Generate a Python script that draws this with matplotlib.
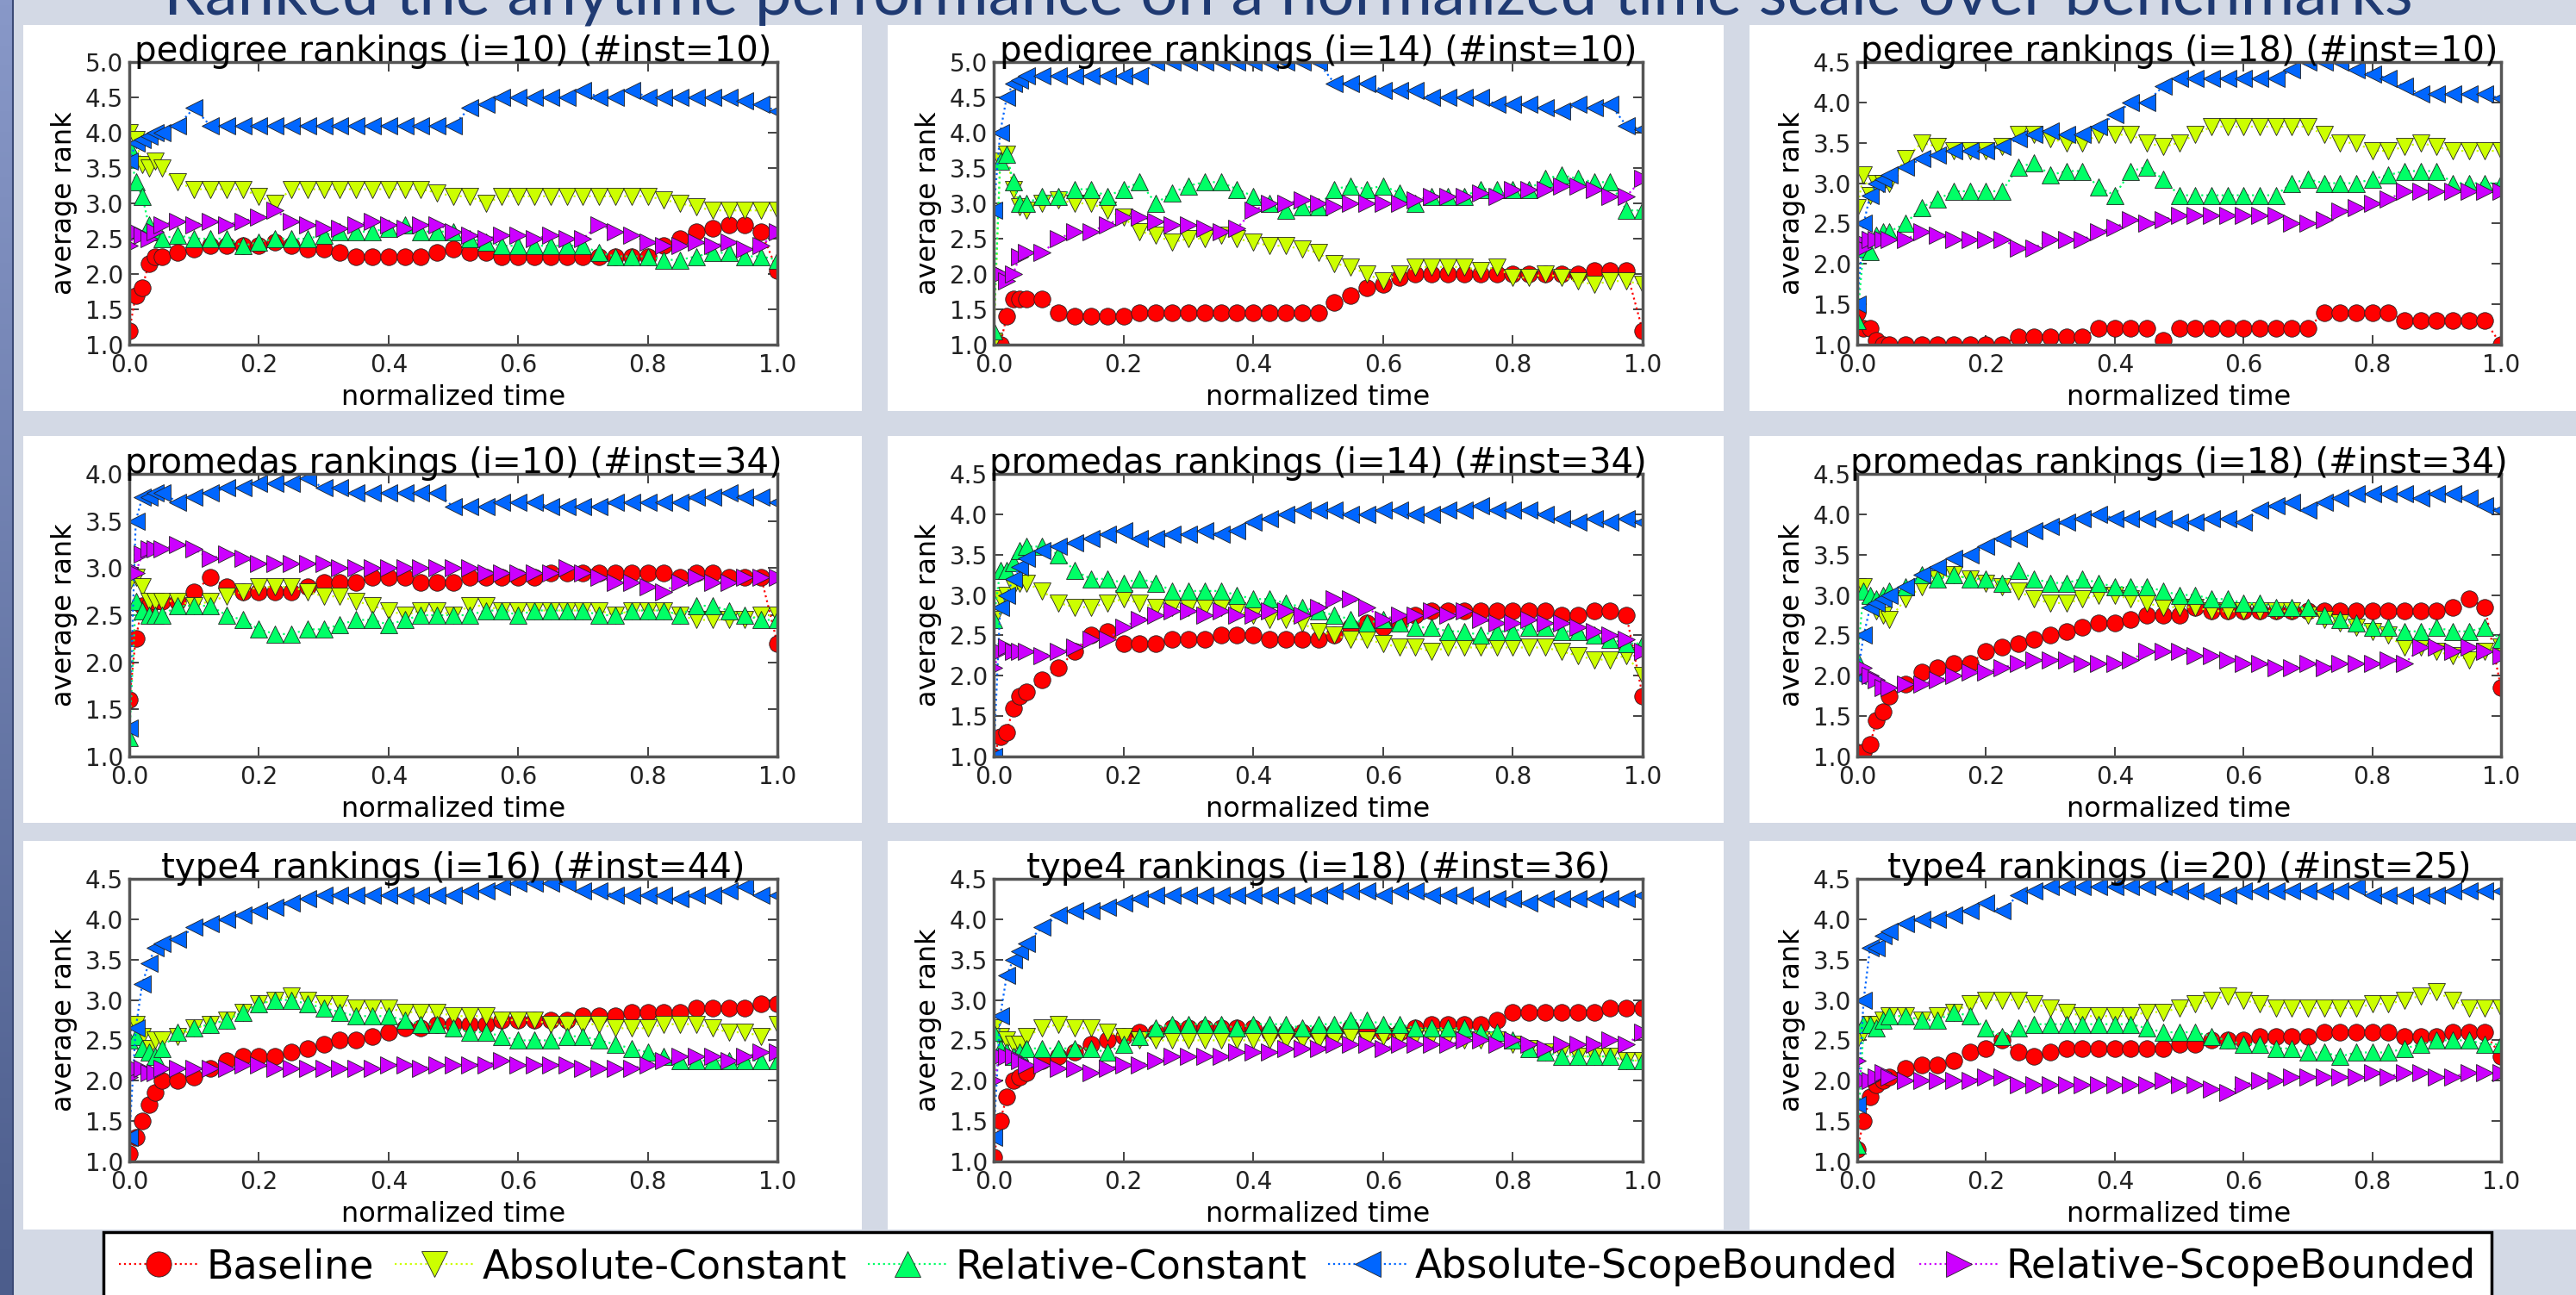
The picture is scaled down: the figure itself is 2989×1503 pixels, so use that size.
import numpy as np
import matplotlib
matplotlib.use("Agg")
import matplotlib.pyplot as plt
from matplotlib.patches import Rectangle
from matplotlib.lines import Line2D
from matplotlib.colors import LinearSegmentedColormap

plt.rcParams['font.family'] = ['DejaVu Sans']

W, H, DPI = 2989, 1503, 100

SLIDE_TITLE = "Ranked the anytime performance on a normalized time scale over benchmarks"
SERIES_NAMES = ["Baseline", "Absolute-Constant", "Relative-Constant",
                "Absolute-ScopeBounded", "Relative-ScopeBounded"]
MARKERS = ['o', 'v', '^', '<', '>']
COLORS = ['#ff0000', '#ccff00', '#00ff66', '#0066ff', '#cc00ff']

TIME = [0.0, 0.01, 0.02, 0.03, 0.04, 0.05,
        0.075, 0.1, 0.125, 0.15, 0.175, 0.2, 0.225, 0.25,
        0.275, 0.3, 0.325, 0.35, 0.375, 0.4, 0.425, 0.45,
        0.475, 0.5, 0.525, 0.55, 0.575, 0.6, 0.625, 0.65,
        0.675, 0.7, 0.725, 0.75, 0.775, 0.8, 0.825, 0.85,
        0.875, 0.9, 0.925, 0.95, 0.975, 1.0]
X_TICKS = [0.0, 0.2, 0.4, 0.6, 0.8, 1.0]

# ---------------- pedigree (i=10) ----------------
PED10_BASE = [1.2, 1.7, 1.8, 2.15, 2.25, 2.25,
              2.3, 2.35, 2.4, 2.4, 2.4, 2.4, 2.45, 2.4,
              2.35, 2.35, 2.3, 2.25, 2.25, 2.25, 2.25, 2.25,
              2.3, 2.35, 2.3, 2.3, 2.25, 2.25, 2.25, 2.25,
              2.25, 2.25, 2.25, 2.25, 2.25, 2.25, 2.4, 2.5,
              2.6, 2.65, 2.7, 2.7, 2.6, 2.05]
PED10_ACON = [4.0, 3.9, 3.55, 3.5, 3.6, 3.5,
              3.3, 3.2, 3.2, 3.2, 3.2, 3.1, 3.0, 3.2,
              3.2, 3.2, 3.2, 3.2, 3.2, 3.2, 3.2, 3.2,
              3.15, 3.1, 3.1, 3.0, 3.1, 3.1, 3.1, 3.1,
              3.1, 3.1, 3.1, 3.1, 3.1, 3.1, 3.05, 3.0,
              2.95, 2.9, 2.9, 2.9, 2.9, 2.9]
PED10_RCON = [3.8, 3.3, 3.1, 2.7, 2.6, 2.5,
              2.55, 2.5, 2.5, 2.5, 2.4, 2.45, 2.5, 2.5,
              2.5, 2.55, 2.6, 2.6, 2.6, 2.65, 2.7, 2.6,
              2.6, 2.6, 2.5, 2.45, 2.4, 2.4, 2.4, 2.4,
              2.4, 2.4, 2.3, 2.25, 2.25, 2.25, 2.2, 2.2,
              2.25, 2.3, 2.3, 2.25, 2.25, 2.2]
PED10_ASB = [3.6, 3.85, 3.9, 3.95, 4.0, 4.0,
             4.1, 4.35, 4.1, 4.1, 4.1, 4.1, 4.1, 4.1,
             4.1, 4.1, 4.1, 4.1, 4.1, 4.1, 4.1, 4.1,
             4.1, 4.1, 4.35, 4.4, 4.5, 4.5, 4.5, 4.5,
             4.5, 4.6, 4.5, 4.5, 4.6, 4.5, 4.5, 4.5,
             4.5, 4.5, 4.5, 4.45, 4.4, 4.3]
PED10_RSB = [2.4, 2.6, 2.55, 2.5, 2.6, 2.7,
             2.75, 2.7, 2.75, 2.7, 2.75, 2.8, 2.9, 2.75,
             2.7, 2.65, 2.65, 2.7, 2.75, 2.7, 2.65, 2.7,
             2.7, 2.6, 2.55, 2.5, 2.55, 2.55, 2.5, 2.55,
             2.5, 2.5, 2.7, 2.6, 2.55, 2.45, 2.4, 2.4,
             2.45, 2.4, 2.45, 2.35, 2.4, 2.6]

# ---------------- pedigree (i=14) ----------------
PED14_BASE = [1.0, 1.0, 1.4, 1.65, 1.65, 1.65,
              1.65, 1.45, 1.4, 1.4, 1.4, 1.4, 1.45, 1.45,
              1.45, 1.45, 1.45, 1.45, 1.45, 1.45, 1.45, 1.45,
              1.45, 1.45, 1.6, 1.7, 1.8, 1.85, 1.95, 2.0,
              2.0, 2.0, 2.0, 2.0, 2.0, 2.0, 2.0, 2.0,
              2.0, 2.0, 2.05, 2.05, 2.05, 1.2]
PED14_ACON = [1.05, 3.6, 3.7, 3.2, 2.95, 2.9,
              3.0, 3.05, 3.0, 3.0, 2.9, 2.8, 2.6, 2.55,
              2.45, 2.5, 2.5, 2.55, 2.5, 2.45, 2.4, 2.4,
              2.35, 2.3, 2.15, 2.1, 2.0, 1.9, 2.0, 2.1,
              2.1, 2.1, 2.1, 2.05, 2.1, 1.95, 1.95, 2.0,
              1.95, 1.9, 1.85, 1.9, 1.9, 1.85]
PED14_RCON = [1.2, 3.6, 3.7, 3.3, 3.0, 3.0,
              3.1, 3.1, 3.2, 3.2, 3.1, 3.2, 3.3, 3.0,
              3.15, 3.25, 3.3, 3.3, 3.2, 3.1, 3.0, 2.9,
              2.95, 2.95, 3.2, 3.25, 3.2, 3.25, 3.15, 3.0,
              3.1, 3.1, 3.1, 3.2, 3.2, 3.2, 3.2, 3.35,
              3.4, 3.35, 3.3, 3.3, 2.9, 2.9]
PED14_ASB = [2.9, 4.0, 4.5, 4.7, 4.75, 4.8,
             4.8, 4.8, 4.8, 4.8, 4.8, 4.8, 4.8, 5.0,
             5.0, 5.0, 5.0, 5.0, 5.0, 5.0, 5.0, 5.0,
             5.0, 5.0, 4.7, 4.7, 4.7, 4.6, 4.6, 4.6,
             4.5, 4.5, 4.5, 4.5, 4.4, 4.4, 4.4, 4.35,
             4.3, 4.4, 4.35, 4.4, 4.1, 4.05]
PED14_RSB = [2.05, 2.0, 1.9, 2.0, 2.25, 2.3,
             2.3, 2.5, 2.6, 2.6, 2.7, 2.8, 2.8, 2.75,
             2.7, 2.7, 2.65, 2.6, 2.65, 2.9, 3.0, 3.0,
             3.05, 3.0, 2.95, 3.0, 3.0, 3.0, 3.0, 3.05,
             3.1, 3.1, 3.1, 3.15, 3.1, 3.2, 3.2, 3.2,
             3.25, 3.25, 3.2, 3.1, 3.1, 3.35]

# ---------------- pedigree (i=18) ----------------
PED18_BASE = [1.4, 1.2, 1.2, 1.05, 1.0, 1.0,
              1.0, 1.0, 1.0, 1.0, 1.0, 1.0, 1.0, 1.1,
              1.1, 1.1, 1.1, 1.1, 1.2, 1.2, 1.2, 1.2,
              1.05, 1.2, 1.2, 1.2, 1.2, 1.2, 1.2, 1.2,
              1.2, 1.2, 1.4, 1.4, 1.4, 1.4, 1.4, 1.3,
              1.3, 1.3, 1.3, 1.3, 1.3, 1.0]
PED18_ACON = [2.7, 3.1, 2.85, 3.0, 3.0, 3.0,
              3.3, 3.5, 3.45, 3.4, 3.4, 3.4, 3.45, 3.6,
              3.6, 3.55, 3.5, 3.5, 3.6, 3.6, 3.6, 3.5,
              3.45, 3.5, 3.6, 3.7, 3.7, 3.7, 3.7, 3.7,
              3.7, 3.7, 3.6, 3.5, 3.5, 3.4, 3.4, 3.45,
              3.5, 3.45, 3.4, 3.4, 3.4, 3.4]
PED18_RCON = [1.3, 2.2, 2.15, 2.35, 2.4, 2.4,
              2.5, 2.7, 2.8, 2.9, 2.9, 2.9, 2.9, 3.2,
              3.25, 3.1, 3.15, 3.15, 2.95, 2.85, 3.15, 3.2,
              3.05, 2.85, 2.85, 2.85, 2.85, 2.85, 2.85, 2.85,
              3.0, 3.05, 3.0, 3.0, 3.0, 3.05, 3.1, 3.15,
              3.15, 3.15, 3.0, 3.0, 3.0, 3.0]
PED18_ASB = [1.5, 2.5, 2.85, 3.0, 3.05, 3.1,
             3.2, 3.3, 3.35, 3.4, 3.4, 3.4, 3.45, 3.55,
             3.6, 3.65, 3.6, 3.6, 3.7, 3.85, 4.0, 4.0,
             4.2, 4.3, 4.3, 4.3, 4.3, 4.3, 4.3, 4.3,
             4.4, 4.5, 4.5, 4.5, 4.4, 4.35, 4.3, 4.2,
             4.1, 4.1, 4.1, 4.1, 4.1, 4.05]
PED18_RSB = [2.3, 2.2, 2.3, 2.3, 2.3, 2.3,
             2.3, 2.4, 2.35, 2.3, 2.3, 2.3, 2.3, 2.2,
             2.2, 2.3, 2.3, 2.3, 2.4, 2.45, 2.55, 2.5,
             2.55, 2.6, 2.6, 2.6, 2.6, 2.6, 2.6, 2.6,
             2.5, 2.5, 2.55, 2.65, 2.7, 2.75, 2.8, 2.9,
             2.9, 2.9, 2.9, 2.9, 2.9, 2.9]

# ---------------- promedas (i=10) ----------------
PRO10_BASE = [1.6, 2.25, 2.6, 2.6, 2.65, 2.65,
              2.65, 2.75, 2.9, 2.8, 2.75, 2.75, 2.75, 2.75,
              2.8, 2.85, 2.85, 2.85, 2.9, 2.9, 2.9, 2.85,
              2.85, 2.85, 2.9, 2.9, 2.9, 2.9, 2.9, 2.95,
              2.95, 2.95, 2.95, 2.95, 2.95, 2.95, 2.95, 2.9,
              2.95, 2.95, 2.9, 2.9, 2.9, 2.2]
PRO10_ACON = [2.85, 2.9, 2.8, 2.65, 2.65, 2.65,
              2.65, 2.6, 2.65, 2.7, 2.75, 2.8, 2.8, 2.8,
              2.75, 2.7, 2.7, 2.65, 2.6, 2.55, 2.5, 2.55,
              2.55, 2.5, 2.6, 2.6, 2.55, 2.55, 2.55, 2.55,
              2.55, 2.55, 2.55, 2.5, 2.55, 2.55, 2.55, 2.5,
              2.45, 2.45, 2.45, 2.45, 2.5, 2.5]
PRO10_RCON = [1.2, 2.65, 2.55, 2.5, 2.5, 2.5,
              2.6, 2.6, 2.6, 2.5, 2.45, 2.35, 2.3, 2.3,
              2.35, 2.35, 2.4, 2.45, 2.45, 2.4, 2.45, 2.5,
              2.5, 2.5, 2.5, 2.55, 2.55, 2.5, 2.55, 2.55,
              2.55, 2.55, 2.5, 2.5, 2.55, 2.55, 2.55, 2.5,
              2.6, 2.6, 2.55, 2.5, 2.45, 2.45]
PRO10_ASB = [1.3, 3.5, 3.75, 3.75, 3.8, 3.8,
             3.7, 3.75, 3.8, 3.85, 3.85, 3.9, 3.9, 3.9,
             3.95, 3.85, 3.85, 3.8, 3.8, 3.8, 3.8, 3.8,
             3.8, 3.65, 3.65, 3.65, 3.7, 3.7, 3.7, 3.65,
             3.65, 3.65, 3.65, 3.7, 3.7, 3.7, 3.7, 3.7,
             3.75, 3.75, 3.8, 3.75, 3.75, 3.7]
PRO10_RSB = [3.0, 2.95, 3.15, 3.2, 3.2, 3.2,
             3.25, 3.2, 3.1, 3.15, 3.1, 3.05, 3.05, 3.05,
             3.05, 3.05, 3.0, 3.0, 3.0, 3.0, 3.0, 3.0,
             3.0, 3.0, 3.0, 2.95, 2.95, 2.95, 2.95, 2.95,
             3.0, 2.95, 2.9, 2.85, 2.85, 2.8, 2.75, 2.85,
             2.9, 2.85, 2.85, 2.9, 2.9, 2.9]

# ---------------- promedas (i=14) ----------------
PRO14_BASE = [1.0, 1.25, 1.3, 1.6, 1.75, 1.8,
              1.95, 2.1, 2.3, 2.5, 2.55, 2.4, 2.4, 2.4,
              2.45, 2.45, 2.45, 2.5, 2.5, 2.5, 2.45, 2.45,
              2.45, 2.45, 2.5, 2.6, 2.65, 2.6, 2.65, 2.75,
              2.8, 2.8, 2.8, 2.8, 2.8, 2.8, 2.8, 2.8,
              2.75, 2.75, 2.8, 2.8, 2.75, 1.75]
PRO14_ACON = [2.7, 2.95, 3.0, 3.1, 3.15, 3.15,
              3.05, 2.9, 2.85, 2.85, 2.9, 2.95, 2.9, 2.85,
              2.85, 2.85, 2.85, 2.85, 2.8, 2.75, 2.7, 2.7,
              2.65, 2.55, 2.5, 2.45, 2.45, 2.4, 2.35, 2.35,
              2.3, 2.35, 2.35, 2.35, 2.35, 2.35, 2.35, 2.35,
              2.3, 2.25, 2.2, 2.2, 2.25, 2.0]
PRO14_RCON = [2.7, 3.3, 3.3, 3.4, 3.55, 3.6,
              3.6, 3.5, 3.3, 3.2, 3.2, 3.15, 3.2, 3.15,
              3.05, 3.05, 3.05, 3.05, 3.0, 2.95, 2.95, 2.9,
              2.85, 2.8, 2.75, 2.7, 2.65, 2.7, 2.65, 2.6,
              2.6, 2.55, 2.55, 2.5, 2.55, 2.55, 2.6, 2.6,
              2.55, 2.55, 2.5, 2.45, 2.4, 2.4]
PRO14_ASB = [1.0, 2.85, 3.0, 3.2, 3.35, 3.45,
             3.55, 3.6, 3.65, 3.7, 3.75, 3.8, 3.7, 3.7,
             3.75, 3.75, 3.8, 3.75, 3.8, 3.9, 3.95, 4.0,
             4.05, 4.05, 4.05, 4.0, 4.0, 4.05, 4.05, 4.0,
             4.0, 4.05, 4.05, 4.1, 4.05, 4.05, 4.05, 4.0,
             3.95, 3.9, 3.95, 3.9, 3.95, 3.9]
PRO14_RSB = [2.1, 2.3, 2.35, 2.3, 2.3, 2.3,
             2.25, 2.3, 2.35, 2.45, 2.45, 2.6, 2.7, 2.75,
             2.8, 2.8, 2.75, 2.8, 2.75, 2.75, 2.8, 2.8,
             2.75, 2.85, 2.95, 2.95, 2.85, 2.7, 2.75, 2.75,
             2.8, 2.75, 2.8, 2.7, 2.65, 2.65, 2.7, 2.65,
             2.65, 2.6, 2.55, 2.5, 2.45, 2.3]

# ---------------- promedas (i=18) ----------------
PRO18_BASE = [1.05, 1.05, 1.15, 1.45, 1.55, 1.75,
              1.9, 2.05, 2.1, 2.15, 2.15, 2.3, 2.35, 2.4,
              2.45, 2.5, 2.55, 2.6, 2.65, 2.65, 2.7, 2.75,
              2.75, 2.75, 2.85, 2.8, 2.8, 2.8, 2.8, 2.8,
              2.8, 2.8, 2.8, 2.8, 2.8, 2.8, 2.8, 2.8,
              2.8, 2.8, 2.85, 2.95, 2.85, 1.85]
PRO18_ACON = [3.1, 3.1, 2.9, 2.8, 2.75, 2.7,
              2.95, 3.1, 3.2, 3.25, 3.2, 3.15, 3.1, 3.05,
              2.95, 2.9, 2.9, 2.95, 3.0, 3.0, 2.95, 2.9,
              2.85, 2.85, 2.85, 2.8, 2.8, 2.8, 2.8, 2.8,
              2.8, 2.75, 2.7, 2.65, 2.6, 2.55, 2.5, 2.35,
              2.35, 2.3, 2.25, 2.2, 2.3, 2.35]
PRO18_RCON = [2.2, 3.05, 3.0, 2.95, 3.0, 3.05,
              3.1, 3.25, 3.2, 3.25, 3.2, 3.2, 3.15, 3.3,
              3.2, 3.15, 3.15, 3.2, 3.15, 3.1, 3.1, 3.1,
              3.05, 3.0, 3.0, 2.95, 2.95, 2.9, 2.9, 2.85,
              2.85, 2.85, 2.75, 2.7, 2.65, 2.6, 2.6, 2.55,
              2.55, 2.6, 2.55, 2.55, 2.6, 2.45]
PRO18_ASB = [2.0, 2.5, 2.85, 2.9, 2.95, 3.0,
             3.1, 3.25, 3.35, 3.45, 3.5, 3.6, 3.7, 3.7,
             3.8, 3.85, 3.9, 3.95, 4.0, 3.95, 3.95, 3.95,
             3.95, 3.9, 3.9, 3.95, 3.95, 3.9, 4.05, 4.1,
             4.15, 4.05, 4.15, 4.2, 4.25, 4.25, 4.25, 4.25,
             4.2, 4.25, 4.25, 4.2, 4.1, 4.05]
PRO18_RSB = [2.05, 2.1, 2.0, 1.95, 1.85, 1.85,
             1.9, 1.9, 1.95, 2.0, 2.05, 2.05, 2.1, 2.15,
             2.2, 2.2, 2.2, 2.15, 2.15, 2.15, 2.2, 2.3,
             2.3, 2.3, 2.25, 2.25, 2.2, 2.15, 2.15, 2.1,
             2.1, 2.15, 2.1, 2.15, 2.15, 2.15, 2.2, 2.15,
             2.35, 2.35, 2.3, 2.35, 2.3, 2.25]

# ---------------- type4 (i=16) ----------------
T16_BASE = [1.1, 1.3, 1.5, 1.7, 1.85, 2.0,
            2.0, 2.05, 2.15, 2.25, 2.3, 2.3, 2.3, 2.35,
            2.4, 2.45, 2.5, 2.5, 2.55, 2.6, 2.65, 2.65,
            2.7, 2.7, 2.7, 2.7, 2.75, 2.75, 2.75, 2.75,
            2.75, 2.8, 2.8, 2.8, 2.85, 2.85, 2.85, 2.85,
            2.9, 2.9, 2.9, 2.9, 2.95, 2.95]
T16_ACON = [2.7, 2.7, 2.55, 2.4, 2.5, 2.5,
            2.55, 2.65, 2.7, 2.75, 2.85, 2.95, 3.0, 3.05,
            3.0, 2.95, 2.95, 2.9, 2.9, 2.9, 2.85, 2.85,
            2.85, 2.8, 2.8, 2.8, 2.75, 2.75, 2.75, 2.7,
            2.7, 2.7, 2.7, 2.65, 2.65, 2.65, 2.7, 2.7,
            2.7, 2.65, 2.6, 2.6, 2.55, 2.7]
T16_RCON = [2.5, 2.55, 2.4, 2.35, 2.3, 2.4,
            2.6, 2.65, 2.7, 2.75, 2.85, 2.95, 3.0, 3.0,
            2.95, 2.9, 2.85, 2.8, 2.8, 2.8, 2.75, 2.7,
            2.7, 2.65, 2.6, 2.6, 2.55, 2.5, 2.5, 2.5,
            2.55, 2.55, 2.5, 2.45, 2.4, 2.35, 2.3, 2.25,
            2.25, 2.25, 2.25, 2.25, 2.25, 2.25]
T16_ASB = [1.3, 2.65, 3.2, 3.45, 3.65, 3.7,
           3.75, 3.9, 3.95, 4.0, 4.05, 4.1, 4.15, 4.2,
           4.25, 4.3, 4.3, 4.3, 4.3, 4.3, 4.3, 4.3,
           4.3, 4.3, 4.35, 4.35, 4.4, 4.45, 4.45, 4.45,
           4.45, 4.35, 4.35, 4.3, 4.3, 4.3, 4.3, 4.25,
           4.3, 4.3, 4.35, 4.4, 4.3, 4.3]
T16_RSB = [2.05, 2.15, 2.15, 2.1, 2.1, 2.15,
           2.15, 2.15, 2.15, 2.15, 2.2, 2.2, 2.15, 2.15,
           2.15, 2.15, 2.15, 2.15, 2.15, 2.2, 2.2, 2.15,
           2.2, 2.2, 2.2, 2.2, 2.25, 2.2, 2.2, 2.2,
           2.2, 2.15, 2.15, 2.15, 2.15, 2.2, 2.25, 2.3,
           2.3, 2.3, 2.25, 2.3, 2.35, 2.35]

# ---------------- type4 (i=18) ----------------
T18_BASE = [1.05, 1.5, 1.8, 2.0, 2.05, 2.1,
            2.25, 2.3, 2.35, 2.45, 2.5, 2.55, 2.6, 2.6,
            2.65, 2.65, 2.65, 2.65, 2.65, 2.65, 2.6, 2.6,
            2.6, 2.6, 2.6, 2.65, 2.6, 2.6, 2.6, 2.65,
            2.7, 2.7, 2.7, 2.7, 2.75, 2.85, 2.85, 2.85,
            2.85, 2.85, 2.85, 2.9, 2.9, 2.9]
T18_ACON = [2.65, 2.55, 2.5, 2.45, 2.45, 2.55,
            2.65, 2.7, 2.65, 2.65, 2.6, 2.55, 2.5, 2.5,
            2.5, 2.5, 2.5, 2.5, 2.5, 2.5, 2.5, 2.5,
            2.5, 2.5, 2.5, 2.55, 2.5, 2.55, 2.55, 2.55,
            2.55, 2.55, 2.5, 2.5, 2.5, 2.45, 2.4, 2.35,
            2.35, 2.3, 2.3, 2.3, 2.25, 2.25]
T18_RCON = [2.6, 2.4, 2.35, 2.3, 2.35, 2.4,
            2.4, 2.4, 2.4, 2.4, 2.35, 2.45, 2.55, 2.65,
            2.7, 2.7, 2.7, 2.7, 2.65, 2.7, 2.7, 2.7,
            2.65, 2.7, 2.7, 2.75, 2.75, 2.7, 2.7, 2.65,
            2.65, 2.65, 2.65, 2.6, 2.6, 2.5, 2.4, 2.35,
            2.3, 2.3, 2.3, 2.3, 2.25, 2.25]
T18_ASB = [1.3, 2.8, 3.3, 3.5, 3.6, 3.7,
           3.9, 4.05, 4.1, 4.1, 4.15, 4.2, 4.25, 4.3,
           4.3, 4.3, 4.3, 4.3, 4.3, 4.3, 4.3, 4.3,
           4.3, 4.3, 4.35, 4.35, 4.35, 4.3, 4.35, 4.35,
           4.3, 4.3, 4.3, 4.25, 4.25, 4.25, 4.2, 4.25,
           4.25, 4.25, 4.25, 4.25, 4.25, 4.3]
T18_RSB = [2.0, 2.3, 2.3, 2.3, 2.25, 2.2,
           2.2, 2.15, 2.15, 2.1, 2.15, 2.2, 2.2, 2.25,
           2.3, 2.3, 2.3, 2.3, 2.35, 2.35, 2.35, 2.4,
           2.4, 2.4, 2.45, 2.45, 2.45, 2.4, 2.45, 2.45,
           2.45, 2.45, 2.5, 2.5, 2.45, 2.5, 2.45, 2.4,
           2.45, 2.45, 2.45, 2.5, 2.45, 2.6]

# ---------------- type4 (i=20) ----------------
T20_BASE = [1.15, 1.5, 1.8, 1.95, 2.0, 2.05,
            2.15, 2.2, 2.2, 2.25, 2.35, 2.4, 2.5, 2.35,
            2.3, 2.35, 2.4, 2.4, 2.4, 2.4, 2.4, 2.4,
            2.4, 2.45, 2.45, 2.5, 2.5, 2.5, 2.55, 2.55,
            2.55, 2.55, 2.6, 2.6, 2.6, 2.6, 2.6, 2.55,
            2.55, 2.55, 2.6, 2.6, 2.6, 2.3]
T20_ACON = [2.5, 2.6, 2.7, 2.7, 2.75, 2.8,
            2.8, 2.75, 2.8, 2.85, 2.95, 3.0, 3.0, 3.0,
            2.95, 2.9, 2.85, 2.8, 2.8, 2.8, 2.8, 2.85,
            2.85, 2.9, 2.95, 3.0, 3.05, 3.0, 2.95, 2.9,
            2.9, 2.9, 2.9, 2.9, 2.9, 2.95, 2.95, 3.0,
            3.05, 3.1, 3.0, 2.9, 2.9, 2.9]
T20_RCON = [1.2, 2.7, 2.7, 2.65, 2.75, 2.8,
            2.8, 2.75, 2.75, 2.85, 2.8, 2.65, 2.55, 2.65,
            2.7, 2.7, 2.7, 2.7, 2.7, 2.7, 2.7, 2.65,
            2.6, 2.6, 2.6, 2.55, 2.5, 2.45, 2.45, 2.4,
            2.4, 2.35, 2.35, 2.3, 2.35, 2.35, 2.35, 2.4,
            2.45, 2.5, 2.5, 2.5, 2.45, 2.45]
T20_ASB = [1.7, 3.0, 3.65, 3.65, 3.8, 3.85,
           3.95, 4.0, 4.0, 4.05, 4.1, 4.2, 4.1, 4.3,
           4.35, 4.4, 4.4, 4.4, 4.4, 4.4, 4.4, 4.4,
           4.4, 4.35, 4.35, 4.3, 4.3, 4.35, 4.35, 4.35,
           4.35, 4.35, 4.35, 4.35, 4.4, 4.3, 4.3, 4.3,
           4.3, 4.3, 4.35, 4.35, 4.35, 4.35]
T20_RSB = [2.25, 2.0, 2.0, 2.05, 2.1, 2.05,
           2.0, 2.0, 2.0, 2.0, 2.0, 2.05, 2.05, 1.95,
           1.95, 1.95, 1.95, 1.95, 1.95, 1.95, 1.95, 1.95,
           2.0, 1.95, 1.95, 1.9, 1.85, 1.95, 2.0, 2.0,
           2.05, 2.05, 2.05, 2.05, 2.05, 2.1, 2.05, 2.1,
           2.1, 2.05, 2.05, 2.1, 2.1, 2.1]

PANEL_TITLES = ["pedigree rankings (i=10) (#inst=10)",
                "pedigree rankings (i=14) (#inst=10)",
                "pedigree rankings (i=18) (#inst=10)",
                "promedas rankings (i=10) (#inst=34)",
                "promedas rankings (i=14) (#inst=34)",
                "promedas rankings (i=18) (#inst=34)",
                "type4 rankings (i=16) (#inst=44)",
                "type4 rankings (i=18) (#inst=36)",
                "type4 rankings (i=20) (#inst=25)"]
PANEL_YMAX = [5.0, 5.0, 4.5, 4.0, 4.5, 4.5, 4.5, 4.5, 4.5]
PANEL_SERIES = [
    [PED10_BASE, PED10_ACON, PED10_RCON, PED10_ASB, PED10_RSB],
    [PED14_BASE, PED14_ACON, PED14_RCON, PED14_ASB, PED14_RSB],
    [PED18_BASE, PED18_ACON, PED18_RCON, PED18_ASB, PED18_RSB],
    [PRO10_BASE, PRO10_ACON, PRO10_RCON, PRO10_ASB, PRO10_RSB],
    [PRO14_BASE, PRO14_ACON, PRO14_RCON, PRO14_ASB, PRO14_RSB],
    [PRO18_BASE, PRO18_ACON, PRO18_RCON, PRO18_ASB, PRO18_RSB],
    [T16_BASE, T16_ACON, T16_RCON, T16_ASB, T16_RSB],
    [T18_BASE, T18_ACON, T18_RCON, T18_ASB, T18_RSB],
    [T20_BASE, T20_ACON, T20_RCON, T20_ASB, T20_RSB],
]

for p, group in enumerate(PANEL_SERIES):
    for s, vals in enumerate(group):
        if len(vals) != len(TIME):
            raise ValueError(f"panel {p} series {s}: {len(vals)} values")

# ---------------- layout (pixels) ----------------
BG = '#d3d9e5'
COL_AX = [(150, 902), (1153, 1906), (2155, 2902)]
ROW_AX = [(72, 400), (550, 878), (1020, 1348)]
COL_BOX = [(27, 1000), (1030, 2000), (2030, 2989)]
ROW_BOX = [(29, 477), (506, 955), (976, 1427)]

fig = plt.figure(figsize=(W / DPI, H / DPI), dpi=DPI, facecolor=BG)

# left decorative strip
sax = fig.add_axes([0, 0, 15 / W, 1])
grad = np.linspace(0, 1, 256).reshape(-1, 1)
cmap = LinearSegmentedColormap.from_list('strip', ['#8898c8', '#4c5d8c'])
sax.imshow(grad, aspect='auto', cmap=cmap, extent=[0, 1, 0, 1], origin='upper')
sax.set_axis_off()
fig.add_artist(Line2D([15 / W, 15 / W], [0, 1], transform=fig.transFigure,
                      color='#3b4a76', lw=1.5, zorder=3))

# white picture boxes
for (y0, y1) in ROW_BOX:
    for (x0, x1) in COL_BOX:
        fig.add_artist(Rectangle((x0 / W, 1 - y1 / H), (x1 - x0) / W, (y1 - y0) / H,
                                 transform=fig.transFigure, facecolor='white',
                                 edgecolor='none', zorder=-5))

handles = []
for idx in range(9):
    r, c = divmod(idx, 3)
    (xl, xr), (yt, yb) = COL_AX[c], ROW_AX[r]
    ax = fig.add_axes([xl / W, 1 - yb / H, (xr - xl) / W, (yb - yt) / H])
    ax.set_facecolor('white')
    for s, vals in enumerate(PANEL_SERIES[idx]):
        ln, = ax.plot(TIME, vals, linestyle=':', lw=1.6, color=COLORS[s],
                      marker=MARKERS[s], markersize=14, markerfacecolor=COLORS[s],
                      markeredgecolor='#222222', markeredgewidth=0.6,
                      label=SERIES_NAMES[s])
        if idx == 0:
            handles.append(ln)
    ymax = PANEL_YMAX[idx]
    ax.set_xlim(0, 1)
    ax.set_ylim(1, ymax)
    ax.set_xticks(X_TICKS)
    ax.set_xticklabels([f"{v:.1f}" for v in X_TICKS])
    yt_vals = np.arange(1.0, ymax + 0.01, 0.5)
    ax.set_yticks(yt_vals)
    ax.set_yticklabels([f"{v:.1f}" for v in yt_vals])
    ax.tick_params(direction='in', top=True, right=True, length=8, width=1.2,
                   labelsize=20, colors='#222222')
    ax.tick_params(axis='x', pad=7)
    ax.tick_params(axis='y', pad=5)
    for sp in ax.spines.values():
        sp.set_linewidth(2.5)
        sp.set_color('#555555')
    ax.set_title(PANEL_TITLES[idx], fontsize=29, pad=1)
    ax.set_xlabel('normalized time', fontsize=23, labelpad=6)
    ax.set_ylabel('average rank', fontsize=23, labelpad=6)

# slide title (partially cut off at top)
title = fig.text(190 / W, 1 - 16 / H, SLIDE_TITLE, fontsize=50, color='#1f3a72',
                 family=['Lato', 'DejaVu Sans'], va='baseline', ha='left')
fig.canvas.draw()
rend = fig.canvas.get_renderer()
tw = title.get_window_extent(rend).width
title.set_fontsize(50 * 2608 / tw)


def make_legend(cs):
    lg = fig.legend(handles, SERIES_NAMES, loc='upper left',
                    bbox_to_anchor=(120 / W, 1 - 1430 / H), ncol=5, fontsize=33,
                    frameon=True, fancybox=False, edgecolor='black', framealpha=1,
                    handlelength=2.0, handletextpad=0.2, columnspacing=cs,
                    borderpad=0.4, borderaxespad=0, markerscale=1.5)
    lg.get_frame().set_linewidth(2.5)
    return lg


leg = make_legend(0.5)
fig.canvas.draw()
lw_px = leg.get_window_extent(rend).width
fs_px = 33 * DPI / 72
cs = 0.5 + (2771 - lw_px) / (4 * fs_px)
leg.remove()
leg = make_legend(cs)

fig.savefig('out.png', dpi=DPI, facecolor=BG)
